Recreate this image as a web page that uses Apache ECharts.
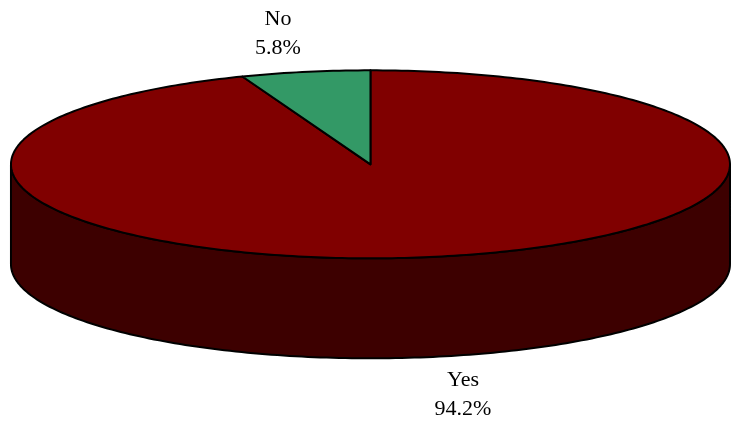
<!DOCTYPE html>
<html>
<head>
<meta charset="utf-8">
<script src="https://cdn.jsdelivr.net/npm/echarts@6/dist/echarts.min.js"></script>
<style>
  html, body { margin: 0; padding: 0; background: #fff; }
  #chart { width: 731px; height: 423px; }
</style>
</head>
<body>
<div id="chart"></div>
<script>
// Survey answer shares
const categories = ['Yes', 'No'];
const values = [94.2, 5.8];
const percentLabels = ['94.2%', '5.8%'];

const topColors = ['#800000', '#339966'];
const sideColors = ['#3d0000', '#1a4d33'];

const total = values.reduce((a, b) => a + b, 0);
const starts = [];
let acc = 0;
values.forEach(v => { starts.push(acc); acc += v; });

const chart = echarts.init(document.getElementById('chart'), null, { renderer: 'canvas' });

function renderSlice(params, api) {
  const i = params.dataIndex;
  const W = api.getWidth();
  const H = api.getHeight();
  // elliptical disc geometry
  const cx = W * 0.5068, cy = H * 0.3885;
  const rx = W * 0.4918, ry = H * 0.2222;
  const depth = H * 0.2364;

  const deg = Math.PI / 180;
  // angles measured clockwise on screen, starting at 12 o'clock
  const a0 = -90 + starts[i] / total * 360;
  const a1 = -90 + (starts[i] + api.value(0)) / total * 360;
  const pt = (t, dy) => [cx + rx * Math.cos(t * deg), cy + ry * Math.sin(t * deg) + (dy || 0)];

  const children = [];

  // front wall: the part of the arc on the near half of the disc (0..180)
  [[0, 180], [360, 540], [-360, -180]].forEach(([lo, hi]) => {
    const s = Math.max(a0, lo), e = Math.min(a1, hi);
    if (e > s) {
      const pts = [];
      const n = Math.max(8, Math.ceil((e - s) / 1));
      for (let k = 0; k <= n; k++) pts.push(pt(s + (e - s) * k / n));
      for (let k = n; k >= 0; k--) pts.push(pt(s + (e - s) * k / n, depth));
      children.push({
        type: 'polygon',
        shape: { points: pts },
        style: { fill: sideColors[i], stroke: '#000', lineWidth: 2, lineJoin: 'round' }
      });
    }
  });

  // top face
  const topPts = [[cx, cy]];
  const n = Math.max(4, Math.ceil((a1 - a0) / 1));
  for (let k = 0; k <= n; k++) topPts.push(pt(a0 + (a1 - a0) * k / n));
  children.push({
    type: 'polygon',
    shape: { points: topPts },
    style: { fill: topColors[i], stroke: '#000', lineWidth: 2, lineJoin: 'round' }
  });

  // label outside the slice
  const mid = (a0 + a1) / 2;
  const ox = rx * Math.cos(mid * deg), oy = ry * Math.sin(mid * deg);
  const front = Math.sin(mid * deg) > 0 ? depth : 0;
  children.push({
    type: 'text',
    style: {
      text: categories[i] + '\n' + percentLabels[i],
      x: cx + ox * 1.42,
      y: cy + oy * 1.41 + front,
      align: 'center',
      verticalAlign: 'middle',
      font: '22px "Liberation Serif", "Times New Roman", serif',
      lineHeight: 29,
      fill: '#000'
    }
  });

  return { type: 'group', children };
}

chart.setOption({
  animation: false,
  series: [{
    type: 'custom',
    coordinateSystem: 'none',
    renderItem: renderSlice,
    data: values.map((v, i) => ({ name: categories[i], value: [v] }))
  }]
});
</script>
</body>
</html>
